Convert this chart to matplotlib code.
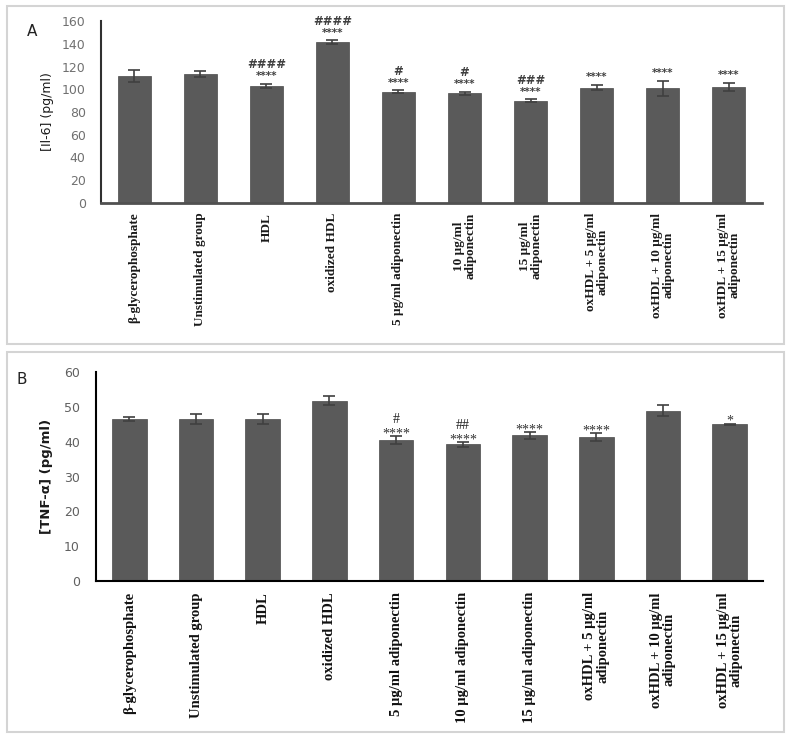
import matplotlib
matplotlib.use("Agg")
import matplotlib.pyplot as plt
from matplotlib.patches import Rectangle
import numpy as np

labels_a = ["β-glycerophosphate", "Unstimulated group", "HDL", "oxidized HDL",
            "5 µg/ml adiponectin", "10 µg/ml\nadiponectin", "15 µg/ml\nadiponectin",
            "oxHDL + 5 µg/ml\nadiponectin", "oxHDL + 10 µg/ml\nadiponectin",
            "oxHDL + 15 µg/ml\nadiponectin"]
il6 = [111.5, 113.5, 103, 141.5, 98, 96.5, 90, 101.5, 101, 102]
il6_err = [5, 2.5, 2, 1.5, 1, 1.5, 1, 2.5, 6.5, 3.5]
stars_a = ["", "", "****", "****", "****", "****", "****", "****", "****", "****"]
hash_a = ["", "", "####", "####", "#", "#", "###", "", "", ""]

labels_b = ["β-glycerophosphate", "Unstimulated group", "HDL", "oxidized HDL",
            "5 µg/ml adiponectin", "10 µg/ml adiponectin", "15 µg/ml adiponectin",
            "oxHDL + 5 µg/ml\nadiponectin", "oxHDL + 10 µg/ml\nadiponectin",
            "oxHDL + 15 µg/ml\nadiponectin"]
tnf = [46.5, 46.5, 46.5, 51.8, 40.4, 39.2, 41.8, 41.4, 48.9, 45.0]
tnf_err = [0.7, 1.5, 1.3, 1.2, 1.2, 0.7, 0.9, 1.1, 1.6, 0.2]
stars_b = ["", "", "", "", "****", "****", "****", "****", "", "*"]
hash_b = ["", "", "", "", "#", "##", "", "", "", ""]

W, H = 788, 734
fig = plt.figure(figsize=(W / 100, H / 100), dpi=100)

# panel borders
for (x0, y0, x1, y1) in [(7, 6, 784, 344), (7, 352, 784, 732)]:
    fig.add_artist(Rectangle((x0 / W, 1 - y1 / H), (x1 - x0) / W, (y1 - y0) / H,
                             transform=fig.transFigure, fill=False,
                             edgecolor="#d4d4d4", linewidth=1.5))

bar_color = "#5a5a5a"

# ---------- Panel A ----------
axA = fig.add_axes([101 / W, 1 - 203 / H, (762 - 101) / W, (203 - 21) / H])
xa = np.arange(len(labels_a))
axA.bar(xa, il6, width=0.5, color=bar_color, edgecolor="#4a4a4a", linewidth=0.5,
        yerr=il6_err, error_kw=dict(ecolor="#404040", elinewidth=1.2, capsize=4, capthick=1.2))
axA.set_xlim(-0.5, len(labels_a) - 0.5)
axA.set_ylim(0, 160)
axA.set_yticks(np.arange(0, 161, 20))
axA.set_xticks(xa)
axA.set_xticklabels(labels_a, rotation=90, family="Liberation Serif", weight="bold",
                    fontsize=9.5, linespacing=1.0, va="top", ha="center")
for lab in axA.get_yticklabels():
    lab.set_family("DejaVu Sans")
axA.tick_params(axis="y", length=0, labelsize=9, labelcolor="#707070", pad=11)
axA.tick_params(axis="x", length=0, pad=7, labelcolor="#1a1a1a")
for s in ["top", "right"]:
    axA.spines[s].set_visible(False)
axA.spines["left"].set_color("#303030")
axA.spines["left"].set_linewidth(1.5)
axA.spines["bottom"].set_color("#505050")
axA.spines["bottom"].set_linewidth(2)
axA.set_ylabel("[Il-6] (pg/ml)", fontsize=9, color="#1a1a1a", labelpad=6)
for i in range(len(xa)):
    top = il6[i] + il6_err[i]
    if stars_a[i]:
        axA.annotate(stars_a[i], (xa[i], top), xytext=(0, 2), textcoords="offset points",
                     ha="center", va="bottom", fontsize=7.5, color="#404040", weight="bold")
    if hash_a[i]:
        axA.annotate(hash_a[i], (xa[i], top), xytext=(0, 9), textcoords="offset points",
                     ha="center", va="bottom", fontsize=8.5, color="#404040", weight="bold")
fig.text(32 / W, 1 - 32 / H, "A", fontsize=11, ha="center", va="center", color="#222222")

# ---------- Panel B ----------
axB = fig.add_axes([96 / W, 1 - 581 / H, (763 - 96) / W, (581 - 372) / H])
xb = np.arange(len(labels_b))
axB.bar(xb, tnf, width=0.52, color=bar_color, edgecolor="#4a4a4a", linewidth=0.5,
        yerr=tnf_err, error_kw=dict(ecolor="#404040", elinewidth=1.2, capsize=4, capthick=1.2))
axB.set_xlim(-0.5, len(labels_b) - 0.5)
axB.set_ylim(0, 60)
axB.set_yticks(np.arange(0, 61, 10))
axB.set_xticks(xb)
axB.set_xticklabels(labels_b, rotation=90, family="Liberation Serif", weight="bold",
                    fontsize=10.5, linespacing=0.95, va="top", ha="center")
for lab in axB.get_yticklabels():
    lab.set_family("DejaVu Sans")
axB.tick_params(axis="y", length=0, labelsize=9, labelcolor="#606060", pad=11.5)
axB.tick_params(axis="x", length=0, pad=8, labelcolor="#111111")
for s in ["top", "right"]:
    axB.spines[s].set_visible(False)
axB.spines["left"].set_color("black")
axB.spines["left"].set_linewidth(1.5)
axB.spines["bottom"].set_color("black")
axB.spines["bottom"].set_linewidth(1.5)
axB.set_ylabel("[TNF-α] (pg/ml)", fontsize=9.5, weight="bold", color="#1a1a1a", labelpad=8)
for i in range(len(xb)):
    top = tnf[i] + tnf_err[i]
    if stars_b[i]:
        axB.annotate(stars_b[i], (xb[i], top), xytext=(0, -3), textcoords="offset points",
                     ha="center", va="bottom", fontsize=10, family="Liberation Serif",
                     color="#333333")
    if hash_b[i]:
        axB.annotate(hash_b[i], (xb[i], top), xytext=(0, 7), textcoords="offset points",
                     ha="center", va="bottom", fontsize=10, family="Liberation Serif",
                     color="#222222")
fig.text(22 / W, 1 - 379 / H, "B", fontsize=11, ha="center", va="center", color="#222222")

fig.savefig("out.png", dpi=100, facecolor="white")
